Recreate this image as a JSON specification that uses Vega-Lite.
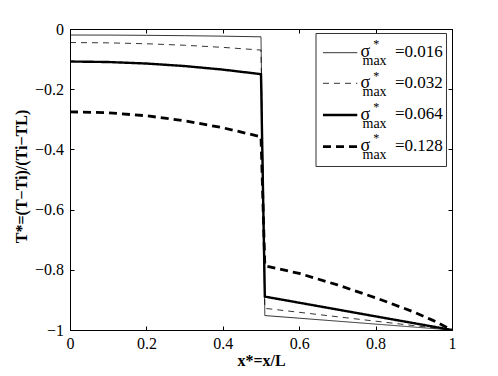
{
  "$schema": "https://vega.github.io/schema/vega-lite/v6.json",
  "width": 382,
  "height": 301,
  "autosize": {"type": "none"},
  "padding": {"left": 70, "top": 29, "right": 46, "bottom": 46},
  "background": "white",
  "config": {
    "view": {"stroke": "black", "strokeWidth": 1},
    "font": "Liberation Serif, Times New Roman, serif",
    "text": {"font": "Liberation Serif, Times New Roman, serif"},
    "axis": {
      "domainColor": "black",
      "tickColor": "black",
      "labelFont": "Liberation Serif, Times New Roman, serif",
      "labelFontSize": 16,
      "labelColor": "black",
      "tickSize": -4,
      "grid": false,
      "titleFont": "Liberation Serif, Times New Roman, serif",
      "titleFontSize": 16,
      "titleFontWeight": "bold",
      "titleColor": "black",
      "labelFlush": false,
      "labelOverlap": false
    }
  },
  "datasets": {
    "curves": [
      {"sigma": "0.016", "x": 0, "T": -0.020},
      {"sigma": "0.016", "x": 0.1, "T": -0.0202},
      {"sigma": "0.016", "x": 0.2, "T": -0.021},
      {"sigma": "0.016", "x": 0.3, "T": -0.0222},
      {"sigma": "0.016", "x": 0.4, "T": -0.0238},
      {"sigma": "0.016", "x": 0.5, "T": -0.026},
      {"sigma": "0.016", "x": 0.51, "T": -0.952},
      {"sigma": "0.016", "x": 0.6, "T": -0.9608},
      {"sigma": "0.016", "x": 0.7, "T": -0.9706},
      {"sigma": "0.016", "x": 0.8, "T": -0.9804},
      {"sigma": "0.016", "x": 0.9, "T": -0.9902},
      {"sigma": "0.016", "x": 1, "T": -1},
      {"sigma": "0.032", "x": 0, "T": -0.045},
      {"sigma": "0.032", "x": 0.1, "T": -0.046},
      {"sigma": "0.032", "x": 0.2, "T": -0.049},
      {"sigma": "0.032", "x": 0.3, "T": -0.054},
      {"sigma": "0.032", "x": 0.4, "T": -0.061},
      {"sigma": "0.032", "x": 0.5, "T": -0.07},
      {"sigma": "0.032", "x": 0.51, "T": -0.928},
      {"sigma": "0.032", "x": 0.6, "T": -0.9412},
      {"sigma": "0.032", "x": 0.7, "T": -0.956},
      {"sigma": "0.032", "x": 0.8, "T": -0.9707},
      {"sigma": "0.032", "x": 0.9, "T": -0.9853},
      {"sigma": "0.032", "x": 1, "T": -1},
      {"sigma": "0.064", "x": 0, "T": -0.108},
      {"sigma": "0.064", "x": 0.1, "T": -0.1097},
      {"sigma": "0.064", "x": 0.2, "T": -0.1147},
      {"sigma": "0.064", "x": 0.3, "T": -0.1231},
      {"sigma": "0.064", "x": 0.4, "T": -0.1349},
      {"sigma": "0.064", "x": 0.5, "T": -0.15},
      {"sigma": "0.064", "x": 0.51, "T": -0.889},
      {"sigma": "0.064", "x": 0.6, "T": -0.9094},
      {"sigma": "0.064", "x": 0.7, "T": -0.932},
      {"sigma": "0.064", "x": 0.8, "T": -0.9547},
      {"sigma": "0.064", "x": 0.9, "T": -0.9773},
      {"sigma": "0.064", "x": 1, "T": -1},
      {"sigma": "0.128", "x": 0, "T": -0.275},
      {"sigma": "0.128", "x": 0.1, "T": -0.2783},
      {"sigma": "0.128", "x": 0.2, "T": -0.2883},
      {"sigma": "0.128", "x": 0.3, "T": -0.3049},
      {"sigma": "0.128", "x": 0.4, "T": -0.3281},
      {"sigma": "0.128", "x": 0.5, "T": -0.358},
      {"sigma": "0.128", "x": 0.51, "T": -0.787},
      {"sigma": "0.128", "x": 0.6, "T": -0.812},
      {"sigma": "0.128", "x": 0.7, "T": -0.85},
      {"sigma": "0.128", "x": 0.8, "T": -0.893},
      {"sigma": "0.128", "x": 0.9, "T": -0.94},
      {"sigma": "0.128", "x": 0.95, "T": -0.968},
      {"sigma": "0.128", "x": 1, "T": -1}
    ]
  },
  "layer": [
    {
      "layer": [
        {
          "data": {"name": "curves"},
          "mark": {"type": "line", "color": "black", "clip": true},
          "encoding": {
            "x": {
              "field": "x", "type": "quantitative",
              "scale": {"domain": [0, 1], "nice": false},
              "axis": {"orient": "bottom", "values": [0, 0.2, 0.4, 0.6, 0.8, 1], "format": "~g", "labelPadding": 9.4, "title": "x*=x/L", "titleX": 191, "titleY": 35, "titleBaseline": "alphabetic", "titleAlign": "center"}
            },
            "y": {
              "field": "T", "type": "quantitative",
              "scale": {"domain": [-1, 0], "nice": false, "zero": false},
              "axis": {"orient": "left", "values": [-1, -0.8, -0.6, -0.4, -0.2, 0], "format": "~g", "labelPadding": 10.5, "title": "T*=(T−Ti)/(Ti−TL)", "titleX": -44, "titleY": 147, "titleAngle": -90, "titleBaseline": "alphabetic", "titleAlign": "center"}
            },
            "detail": {"field": "sigma"},
            "strokeDash": {"field": "sigma", "type": "nominal", "scale": {"domain": ["0.016", "0.032", "0.064", "0.128"], "range": [[1, 0], [6, 5], [1, 0], [8, 5]]}, "legend": null},
            "strokeWidth": {"field": "sigma", "type": "nominal", "scale": {"type": "ordinal", "domain": ["0.016", "0.032", "0.064", "0.128"], "range": [0.8, 0.8, 2.4, 2.8]}, "legend": null}
          }
        },
        {
          "data": {"values": [{}]},
          "mark": {"type": "rect", "fill": "white", "stroke": "#333333", "strokeWidth": 1},
          "encoding": {
            "x": {"datum": 0.644, "type": "quantitative"},
            "x2": {"datum": 0.9856},
            "y": {"datum": -0.015, "type": "quantitative"},
            "y2": {"datum": -0.4568}
          }
        },
        {
          "data": {"values": [{}]},
          "mark": {"type": "rule", "color": "black", "strokeWidth": 0.8},
          "encoding": {"x": {"datum": 0.6623, "type": "quantitative"}, "x2": {"datum": 0.752}, "y": {"datum": -0.0787, "type": "quantitative"}}
        },
        {
          "data": {"values": [{}]},
          "mark": {"type": "rule", "color": "black", "strokeWidth": 0.8, "strokeDash": [6, 5]},
          "encoding": {"x": {"datum": 0.6623, "type": "quantitative"}, "x2": {"datum": 0.752}, "y": {"datum": -0.1804, "type": "quantitative"}}
        },
        {
          "data": {"values": [{}]},
          "mark": {"type": "rule", "color": "black", "strokeWidth": 2.4},
          "encoding": {"x": {"datum": 0.6623, "type": "quantitative"}, "x2": {"datum": 0.752}, "y": {"datum": -0.2857, "type": "quantitative"}}
        },
        {
          "data": {"values": [{}]},
          "mark": {"type": "rule", "color": "black", "strokeWidth": 2.8, "strokeDash": [8, 5]},
          "encoding": {"x": {"datum": 0.6623, "type": "quantitative"}, "x2": {"datum": 0.752}, "y": {"datum": -0.391, "type": "quantitative"}}
        },
        {
          "data": {"values": [{}]},
          "mark": {"type": "text", "align": "left", "baseline": "alphabetic", "fontSize": 18, "color": "black", "dy": 4.3, "lineHeight": 31.3},
          "encoding": {"x": {"datum": 0.7605, "type": "quantitative"}, "y": {"datum": -0.0787, "type": "quantitative"}, "text": {"value": ["σ", "σ", "σ", "σ"]}}
        },
        {
          "data": {"values": [{}]},
          "mark": {"type": "text", "align": "center", "baseline": "alphabetic", "fontSize": 12, "color": "black", "dy": -4.2, "lineHeight": 31.3},
          "encoding": {"x": {"datum": 0.8018, "type": "quantitative"}, "y": {"datum": -0.0787, "type": "quantitative"}, "text": {"value": ["*", "*", "*", "*"]}}
        },
        {
          "data": {"values": [{}]},
          "mark": {"type": "text", "align": "left", "baseline": "alphabetic", "fontSize": 14, "color": "black", "dy": 12.3, "lineHeight": 31.3},
          "encoding": {"x": {"datum": 0.7657, "type": "quantitative"}, "y": {"datum": -0.0787, "type": "quantitative"}, "text": {"value": ["max", "max", "max", "max"]}}
        },
        {
          "data": {"values": [{}]},
          "mark": {"type": "text", "align": "left", "baseline": "alphabetic", "fontSize": 17, "color": "black", "dy": 4, "lineHeight": 31.3},
          "encoding": {"x": {"datum": 0.8508, "type": "quantitative"}, "y": {"datum": -0.0787, "type": "quantitative"}, "text": {"value": ["=0.016", "=0.032", "=0.064", "=0.128"]}}
        }
      ]
    },
    {
      "data": {"values": [{}]},
      "mark": {"type": "point", "opacity": 0},
      "encoding": {
        "x": {"datum": 0, "type": "quantitative", "axis": {"orient": "top", "values": [0, 0.2, 0.4, 0.6, 0.8, 1], "labels": false, "title": null}},
        "y": {"datum": -1, "type": "quantitative", "axis": {"orient": "right", "values": [-1, -0.8, -0.6, -0.4, -0.2, 0], "labels": false, "title": null}}
      }
    }
  ],
  "resolve": {"axis": {"x": "independent", "y": "independent"}}
}
